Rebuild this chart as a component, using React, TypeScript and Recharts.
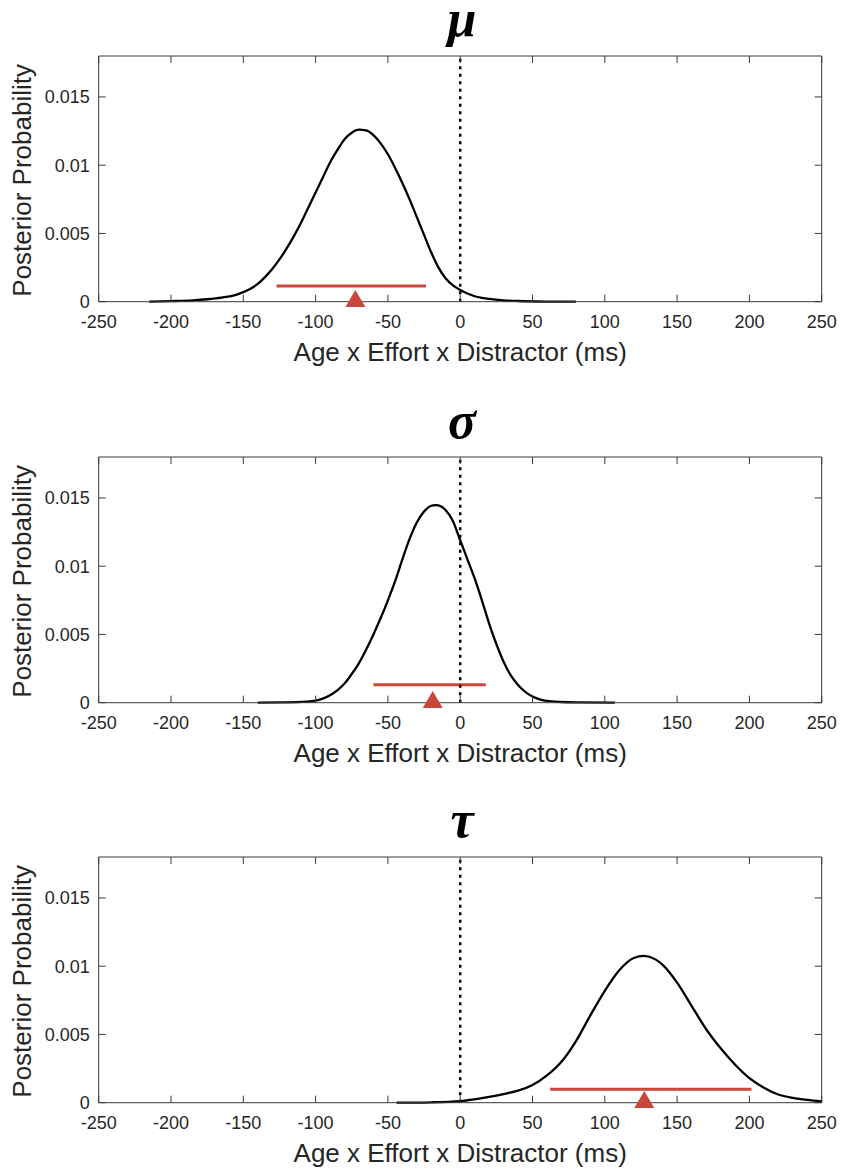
import React from 'react';
import { ComposedChart, Line, XAxis, YAxis, ReferenceLine, Scatter } from 'recharts';

const xTicks = [-250, -200, -150, -100, -50, 0, 50, 100, 150, 200, 250];
const yTicks = [0, 0.005, 0.01, 0.015];
const titles = ['μ', 'σ', 'τ'];
const xLabel = 'Age x Effort x Distractor (ms)';
const yLabel = 'Posterior Probability';

const muX = [-215, -200, -185, -175, -165, -155, -150, -145, -140, -135, -130, -125, -120, -115, -110, -105, -100, -95, -90, -85, -80, -75, -70, -65, -60, -55, -50, -45, -40, -35, -30, -25, -20, -15, -10, -5, 0, 5, 10, 15, 20, 30, 40, 60, 80];
const muY = [0, 0.00004, 0.0001, 0.00018, 0.0003, 0.0005, 0.0007, 0.00095, 0.0013, 0.0018, 0.0024, 0.0031, 0.0039, 0.0048, 0.0058, 0.0069, 0.008, 0.0091, 0.0102, 0.0111, 0.0119, 0.01238, 0.0126, 0.01255, 0.0122, 0.0116, 0.0108, 0.0098, 0.0087, 0.0075, 0.0062, 0.0049, 0.0036, 0.0025, 0.0017, 0.0012, 0.00086, 0.0006, 0.0004, 0.00028, 0.0002, 0.0001, 0.00005, 0.00001, 0];

const sigmaX = [-140, -125, -110, -100, -95, -90, -85, -80, -75, -70, -65, -60, -55, -50, -45, -40, -35, -30, -25, -20, -17, -15, -10, -5, 0, 5, 10, 15, 20, 25, 30, 35, 40, 45, 50, 55, 60, 70, 80, 107];
const sigmaY = [0, 0.00002, 0.00006, 0.00015, 0.0003, 0.00055, 0.0009, 0.0014, 0.0021, 0.0029, 0.0039, 0.005, 0.0062, 0.0075, 0.0089, 0.0105, 0.012, 0.0132, 0.014, 0.01443, 0.01448, 0.01445, 0.0141, 0.0133, 0.0119, 0.0105, 0.0091, 0.0075, 0.0058, 0.0043, 0.003, 0.002, 0.0013, 0.0008, 0.00045, 0.00025, 0.00013, 0.00005, 0.00002, 0];

const tauX = [-44, -20, 0, 10, 20, 30, 40, 50, 60, 70, 80, 90, 100, 110, 120, 127, 135, 140, 150, 160, 170, 180, 190, 200, 210, 220, 230, 240, 250];
const tauY = [0, 0.00003, 0.00012, 0.00025, 0.00042, 0.00063, 0.00088, 0.0013, 0.002, 0.003, 0.0045, 0.0064, 0.0082, 0.0097, 0.0106, 0.01075, 0.0105, 0.0101, 0.0088, 0.0071, 0.0054, 0.004, 0.0028, 0.0018, 0.0011, 0.0006, 0.00035, 0.0002, 0.0001];

const ciLow = [-127, -60, 62.2];
const ciHigh = [-23.7, 17.7, 201.4];
const ciLevel = [0.00115, 0.00132, 0.00098];
const means = [-72.5, -19, 127.3];

const curvesX = [muX, sigmaX, tauX];
const curvesY = [muY, sigmaY, tauY];

const panelTops = [0, 400.7, 801];
const titleBaselines = [36, 438, 837];

const axisColor = '#3a3a3a';
const textColor = '#262626';
const red = '#C8463A';
const sans = '"Liberation Sans", Arial, Helvetica, sans-serif';

const Triangle = (props: any) => {
  const { cx, cy } = props;
  if (cx == null || cy == null) return null;
  const pts = `${cx},${cy - 11.7} ${cx - 10},${cy + 5.3} ${cx + 10},${cy + 5.3}`;
  return <polygon points={pts} fill={red} stroke="none" />;
};

function Panel({ idx }: { idx: number }) {
  const curve = curvesX[idx].map((x, i) => ({ x, y: curvesY[idx][i] }));
  const ci = [
    { x: ciLow[idx], y: ciLevel[idx] },
    { x: ciHigh[idx], y: ciLevel[idx] },
  ];
  const mean = [{ x: means[idx], y: 0 }];
  return (
    <ComposedChart width={841} height={400} margin={{ top: 55, right: 18.3, bottom: 68.3, left: 0 }}>
      <XAxis
        dataKey="x"
        type="number"
        domain={[-250, 250]}
        ticks={xTicks}
        interval={0}
        height={30}
        tickSize={-7}
        tickMargin={21}
        axisLine={{ stroke: axisColor }}
        tickLine={{ stroke: axisColor }}
        tick={{ fill: textColor, fontSize: 18, fontFamily: sans }}
        label={{ value: xLabel, position: 'bottom', offset: 11, fill: textColor, fontSize: 26, fontFamily: sans }}
      />
      <XAxis
        xAxisId="top"
        orientation="top"
        dataKey="x"
        type="number"
        domain={[-250, 250]}
        ticks={xTicks}
        interval={0}
        height={1}
        tickSize={-7}
        axisLine={{ stroke: axisColor }}
        tickLine={{ stroke: axisColor }}
        tickFormatter={() => ''}
      />
      <YAxis
        type="number"
        domain={[0, 0.018]}
        ticks={yTicks}
        interval={0}
        width={98.7}
        tickSize={-7}
        tickMargin={16}
        axisLine={{ stroke: axisColor }}
        tickLine={{ stroke: axisColor }}
        tick={{ fill: textColor, fontSize: 18, fontFamily: sans }}
        label={{
          content: (p: any) => {
            const vb = p.viewBox || {};
            const cx = (vb.x ?? 0) + 31.5;
            const cy = (vb.y ?? 56) + (vb.height ?? 245.7) / 2 + 1.5;
            return (
              <text x={cx} y={cy} transform={`rotate(-90 ${cx} ${cy})`} textAnchor="middle" fill={textColor} fontSize={26} fontFamily={sans}>
                {yLabel}
              </text>
            );
          },
        }}
      />
      <YAxis
        yAxisId="right"
        orientation="right"
        type="number"
        domain={[0, 0.018]}
        ticks={yTicks}
        interval={0}
        width={1}
        tickSize={-7}
        axisLine={{ stroke: axisColor }}
        tickLine={{ stroke: axisColor }}
        tickFormatter={() => ''}
      />
      <Line xAxisId="top" yAxisId="right" data={curve} dataKey="y" type="monotone" stroke="none" strokeWidth={0} dot={false} activeDot={false} isAnimationActive={false} />
      <Line data={curve} dataKey="y" type="monotone" stroke="#000" strokeWidth={2.3} dot={false} activeDot={false} isAnimationActive={false} />
      <Line data={ci} dataKey="y" type="linear" stroke={red} strokeWidth={3} dot={false} activeDot={false} isAnimationActive={false} />
      <Scatter data={mean} dataKey="y" shape={Triangle} isAnimationActive={false} />
      <ReferenceLine x={0} stroke="#000" strokeWidth={2.5} strokeDasharray="3 4.5" />
    </ComposedChart>
  );
}

export default function App() {
  return (
    <div style={{ position: 'absolute', left: 0, top: 0, width: 841, height: 1169, background: '#fff' }}>
      {panelTops.map((t, i) => (
        <div key={i} style={{ position: 'absolute', left: 0, top: t }}>
          <Panel idx={i} />
        </div>
      ))}
      <svg width={841} height={1169} style={{ position: 'absolute', left: 0, top: 0, pointerEvents: 'none' }}>
        {titles.map((t, i) => (
          <text
            key={i}
            x={462}
            y={titleBaselines[i]}
            textAnchor="middle"
            fill="#000"
            fontSize={52}
            fontWeight="bold"
            fontStyle="italic"
            fontFamily='"Liberation Serif", "Times New Roman", serif'
          >
            {t}
          </text>
        ))}
      </svg>
    </div>
  );
}
